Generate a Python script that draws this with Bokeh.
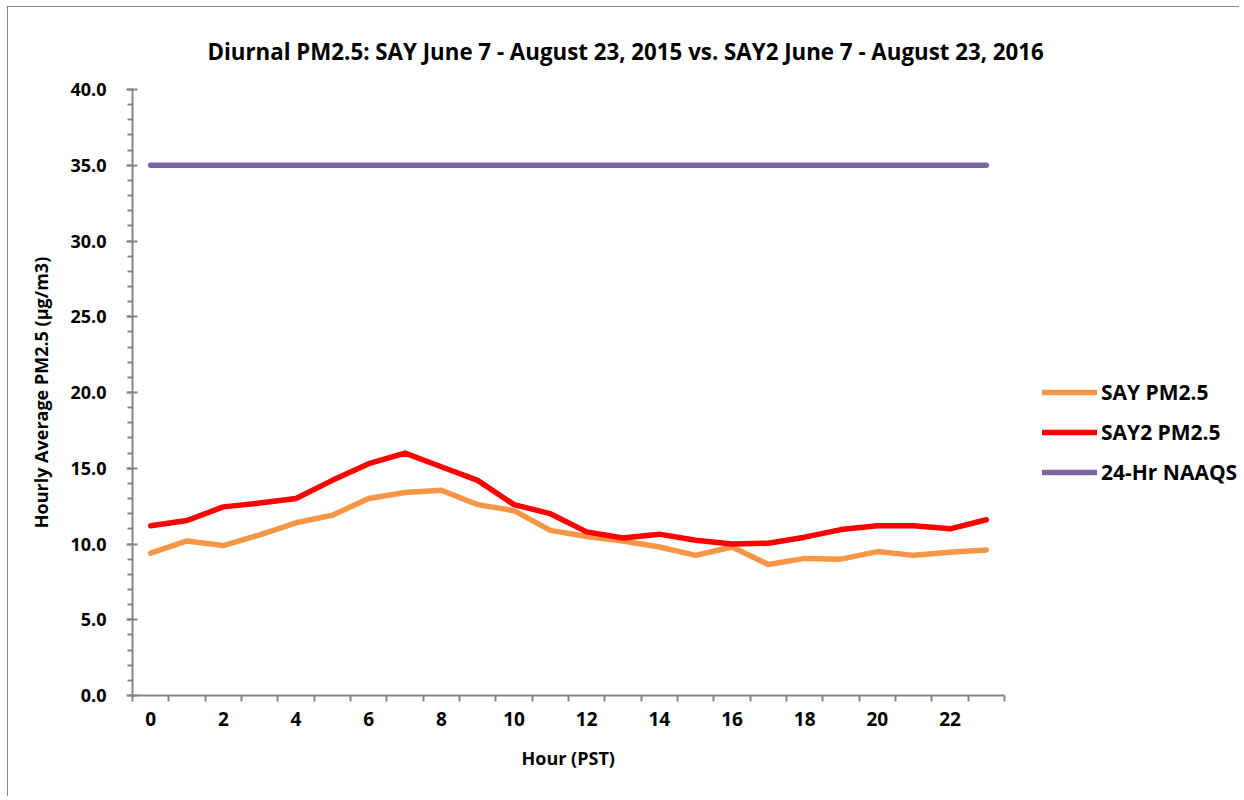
from bokeh.plotting import figure
from bokeh.models import Range1d, FixedTicker, Legend, LegendItem, PrintfTickFormatter, Title
from bokeh.embed import file_html
from bokeh.resources import INLINE

hours = list(range(24))
say_pm25 = [9.4, 10.2, 9.9, 10.6, 11.4, 11.9, 13.0, 13.4, 13.55, 12.6, 12.2, 10.9,
            10.5, 10.2, 9.8, 9.25, 9.8, 8.65, 9.05, 9.0, 9.5, 9.25, 9.45, 9.6]
say2_pm25 = [11.2, 11.55, 12.45, 12.7, 13.0, 14.2, 15.3, 16.0, 15.1, 14.2, 12.6, 12.0,
             10.8, 10.4, 10.65, 10.25, 10.0, 10.05, 10.45, 10.95, 11.2, 11.2, 11.0, 11.6]
naaqs = [35.0] * 24
x_tick_labels = [0, 2, 4, 6, 8, 10, 12, 14, 16, 18, 20, 22]
y_ticks = [0, 5, 10, 15, 20, 25, 30, 35, 40]

FONT = "Open Sans"
AXIS_GRAY = "#868686"

W, H = 1232, 790
LEFT, TOP, BOTTOM = 124, 82, 102
frame_w = W - LEFT
cat_px = 872 / 24.0          # pixel width of one hour slot on the axis
x_end = -0.5 + frame_w / cat_px  # frame extends past the axis to hold the legend

p = figure(width=W, height=H, output_backend="svg", toolbar_location=None,
           x_range=Range1d(-0.5, x_end), y_range=Range1d(0, 40),
           min_border_left=LEFT, min_border_right=0, min_border_top=TOP,
           min_border_bottom=BOTTOM)
p.styles = {"margin-left": "7px", "margin-top": "6px",
            "border-left": "1.5px solid #898989", "border-top": "1.5px solid #898989"}
p.outline_line_color = None
p.xgrid.visible = False
p.ygrid.visible = False

r1 = p.line(hours, say_pm25, line_color="#F79646", line_width=5.5, line_join="round", line_cap="round")
r2 = p.line(hours, say2_pm25, line_color="#FF0000", line_width=5.5, line_join="round", line_cap="round")
r3 = p.line(hours, naaqs, line_color="#8064A2", line_width=5.5, line_join="round", line_cap="round")

p.xaxis.bounds = (-0.5, 23.5)
p.xaxis.ticker = FixedTicker(ticks=x_tick_labels, minor_ticks=[h - 0.5 for h in hours] + [23.5])
p.xaxis.major_tick_in = 0
p.xaxis.major_tick_out = 0
p.xaxis.minor_tick_in = 0
p.xaxis.minor_tick_out = 6
p.xaxis.major_label_standoff = 10

p.yaxis.ticker = FixedTicker(ticks=y_ticks, minor_ticks=list(range(0, 41)))
p.yaxis.formatter = PrintfTickFormatter(format="%.1f")
p.yaxis.major_tick_in = 5
p.yaxis.major_tick_out = 6
p.yaxis.minor_tick_in = 0
p.yaxis.minor_tick_out = 5
p.yaxis.major_label_standoff = 20
p.yaxis.axis_label = "Hourly Average PM2.5 (µg/m3)"
p.yaxis.axis_label_standoff = 14

for ax in (p.xaxis, p.yaxis):
    ax.axis_line_color = AXIS_GRAY
    ax.axis_line_width = 2
    ax.major_tick_line_color = AXIS_GRAY
    ax.major_tick_line_width = 2
    ax.minor_tick_line_color = AXIS_GRAY
    ax.minor_tick_line_width = 2
    ax.major_label_text_font = FONT
    ax.major_label_text_font_style = "bold"
    ax.major_label_text_color = "#000000"
    ax.axis_label_text_font = FONT
    ax.axis_label_text_font_style = "bold"
    ax.axis_label_text_color = "#000000"
p.xaxis.major_label_text_font_size = "19px"
p.yaxis.major_label_text_font_size = "18px"
p.yaxis.axis_label_text_font_size = "18px"

# x-axis title, centred under the hour axis (not the wider frame)
xlab = Title(text="Hour (PST)", align="left", offset=389, text_font=FONT,
             text_font_style="bold", text_font_size="18px", text_color="#000000",
             standoff=30)
p.add_layout(xlab, "below")

p.title.text = "Diurnal PM2.5: SAY June 7 - August 23, 2015  vs. SAY2  June 7 - August 23, 2016"
p.title.align = "left"
p.title.offset = 75
p.title.text_font = FONT
p.title.text_font_style = "bold"
p.title.text_font_size = "22.3px"
p.title.text_color = "#000000"
p.title.standoff = 46

legend = Legend(items=[LegendItem(label="SAY PM2.5", renderers=[r1]),
                       LegendItem(label="SAY2 PM2.5", renderers=[r2]),
                       LegendItem(label="24-Hr NAAQS", renderers=[r3])],
                location=(910, 209), orientation="vertical")
legend.border_line_color = None
legend.background_fill_alpha = 0
legend.glyph_width = 55
legend.glyph_height = 24
legend.label_height = 24
legend.label_standoff = 4
legend.spacing = 12
legend.padding = 0
legend.margin = 0
legend.label_text_font = FONT
legend.label_text_font_style = "bold"
legend.label_text_font_size = "21px"
legend.label_text_color = "#000000"
p.add_layout(legend, "center")

open("out.html", "w").write(file_html(p, INLINE))
